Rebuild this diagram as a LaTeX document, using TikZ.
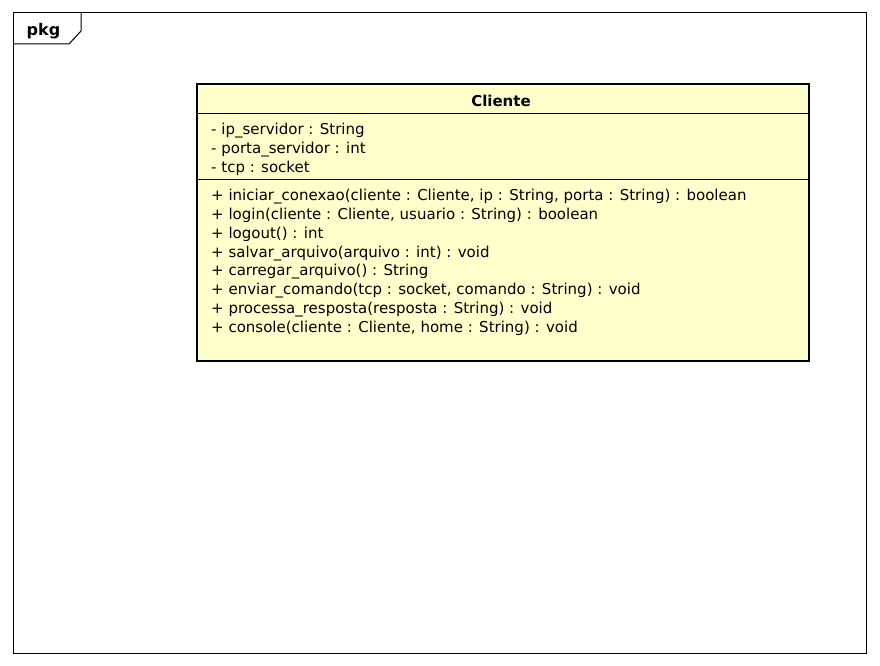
\documentclass[tikz,border=0pt]{standalone}
\usepackage{fontspec}
\setmainfont{DejaVu Sans}
\definecolor{classfill}{HTML}{FFFFCC}
\begin{document}
\begin{tikzpicture}[x=1pt,y=-1pt,
  member/.style={anchor=west,inner sep=0pt,font=\fontsize{15}{17}\selectfont},
  title/.style={inner sep=0pt,font=\bfseries\fontsize{15}{17}\selectfont}]
\useasboundingbox (0,0) rectangle (880,666);
% package frame
\draw[line width=1pt] (13,13) rectangle (866,653);
\draw[line width=1pt] (13,44) -- (69,44) -- (81,31) -- (81,13);
\node[title,font=\bfseries\fontsize{16}{18}\selectfont] (pkg) at (43.5,31) {pkg};
% class box
\filldraw[fill=classfill,draw=black,line width=2.5pt] (197,84) rectangle (809,361);
\draw[line width=0.8pt] (197,113) -- (809,113);
\draw[line width=0.8pt] (197,179) -- (809,179);
\node[title] (cls) at (501,100.5) {Cliente};
\node[member] (a1) at (211,131) {- ip\_servidor : String};
\node[member] (a2) at (211,149.5) {- porta\_servidor : int};
\node[member] (a3) at (211,168) {- tcp : socket};
\node[member] (m1) at (211,197) {+ iniciar\_conexao(cliente : Cliente, ip : String, porta : String) : boolean};
\node[member] (m2) at (211,215.7) {+ login(cliente : Cliente, usuario : String) : boolean};
\node[member] (m3) at (211,234.4) {+ logout() : int};
\node[member] (m4) at (211,253.1) {+ salvar\_arquivo(arquivo : int) : void};
\node[member] (m5) at (211,271.8) {+ carregar\_arquivo() : String};
\node[member] (m6) at (211,290.5) {+ enviar\_comando(tcp : socket, comando : String) : void};
\node[member] (m7) at (211,309.2) {+ processa\_resposta(resposta : String) : void};
\node[member] (m8) at (211,327.9) {+ console(cliente : Cliente, home : String) : void};
\end{tikzpicture}
\end{document}
